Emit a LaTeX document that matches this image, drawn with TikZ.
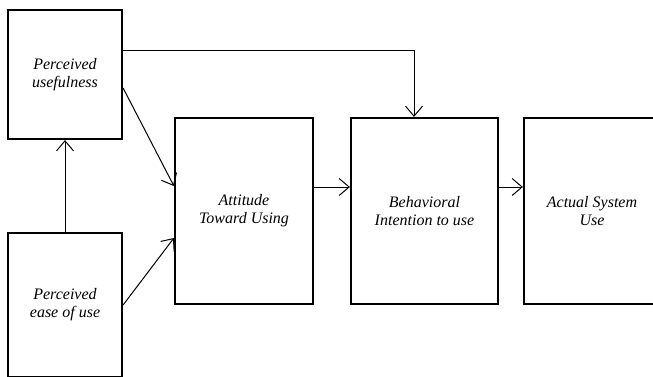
\documentclass[tikz,border=0pt]{standalone}
\usepackage{fontspec}
\setmainfont{Liberation Serif}[ItalicFont={Liberation Serif Italic}]
\usetikzlibrary{arrows.meta}
\begin{document}
\begin{tikzpicture}[x=1pt,y=1pt,line join=miter,>={Straight Barb[length=10pt,width=17pt]}]
                \tikzset{box style/.style={draw,line width=2.2pt,inner sep=0pt,align=center,font=\fontsize{16}{18}\selectfont\itshape},
                    link style/.style={->,line width=1pt}}
                \useasboundingbox (0,0) rectangle (653,376);
                \node[box style,minimum width=114pt,minimum height=129pt] (pu) at (65,301.5) {Perceived\\usefulness};
                \node[box style,minimum width=114pt,minimum height=144pt] (peou) at (65,71) {Perceived\\ease of use};
                \node[box style,minimum width=138pt,minimum height=186pt] (atu) at (244,165) {Attitude\\Toward Using};
                \node[box style,minimum width=147pt,minimum height=186pt] (bi) at (424.5,165) {Behavioral\\Intention to use};
                \node[box style,minimum width=136pt,minimum height=186pt] (asu) at (592,165) {Actual System\\Use};
                \draw[link style] (peou.north) -- (pu.south);
                \draw[link style] ([yshift=-13.5pt]pu.east) -- ([yshift=25pt]atu.west);
                \draw[link style] (peou.east) -- ([yshift=-27pt]atu.west);
                \draw[link style] ([yshift=24pt]atu.east) -- ([yshift=24pt]bi.west);
                \draw[link style] ([yshift=24pt]bi.east) -- ([yshift=24pt]asu.west);
                \draw[link style] ([yshift=24.5pt]pu.east) -| ([xshift=-10.5pt]bi.north);
            \end{tikzpicture}
\end{document}
